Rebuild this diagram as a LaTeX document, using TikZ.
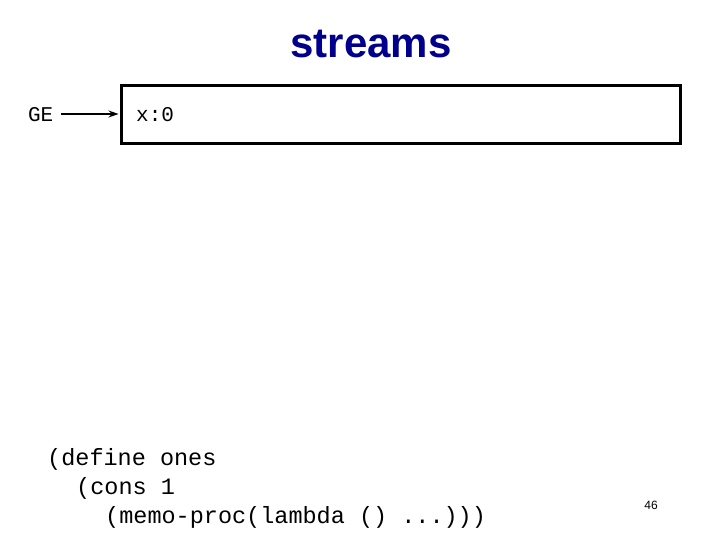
\documentclass[tikz,border=0pt]{standalone}
\usepackage{fontspec}
\setmainfont{Liberation Sans}
\setmonofont{Liberation Mono}
\usetikzlibrary{arrows.meta}
\definecolor{titleblue}{RGB}{0,0,140}
\tikzset{
  code/.style={font=\fontsize{23.5}{28}\selectfont\ttfamily, anchor=base west, inner sep=0pt},
  label/.style={font=\fontsize{21}{24}\selectfont\ttfamily, inner sep=0pt},
  frame/.style={draw=black, line width=3pt, minimum width=559pt, minimum height=58pt, inner sep=0pt},
  link/.style={line width=1.8pt, -{Stealth[length=10pt,width=7pt]}}
}
\begin{document}
\begin{tikzpicture}[x=1pt,y=-1pt]
\useasboundingbox (0,0) rectangle (720,540);
\node[font=\fontsize{42}{48}\selectfont\bfseries, text=titleblue, anchor=base, inner sep=0pt] (title) at (371,58) {streams};
\node[frame] (env) at (400.5,115) {};
\node[label, anchor=base west] (x) at (136,122) {x:0};
\node[label, anchor=base west, outer sep=0pt] (ge) at (28,122) {GE};
\draw[link] ([xshift=8pt]ge.east |- 0,114) -- ([xshift=-1pt]env.west |- 0,114);
\node[code] (l1) at (47,465) {(define ones};
\node[code] (l2) at (76,494) {(cons 1};
\node[code] (l3) at (105,523) {(memo-proc(lambda () ...)))};
\node[font=\fontsize{12}{14}\selectfont, anchor=base, inner sep=0pt] (pg) at (651,509) {46};
\end{tikzpicture}
\end{document}
